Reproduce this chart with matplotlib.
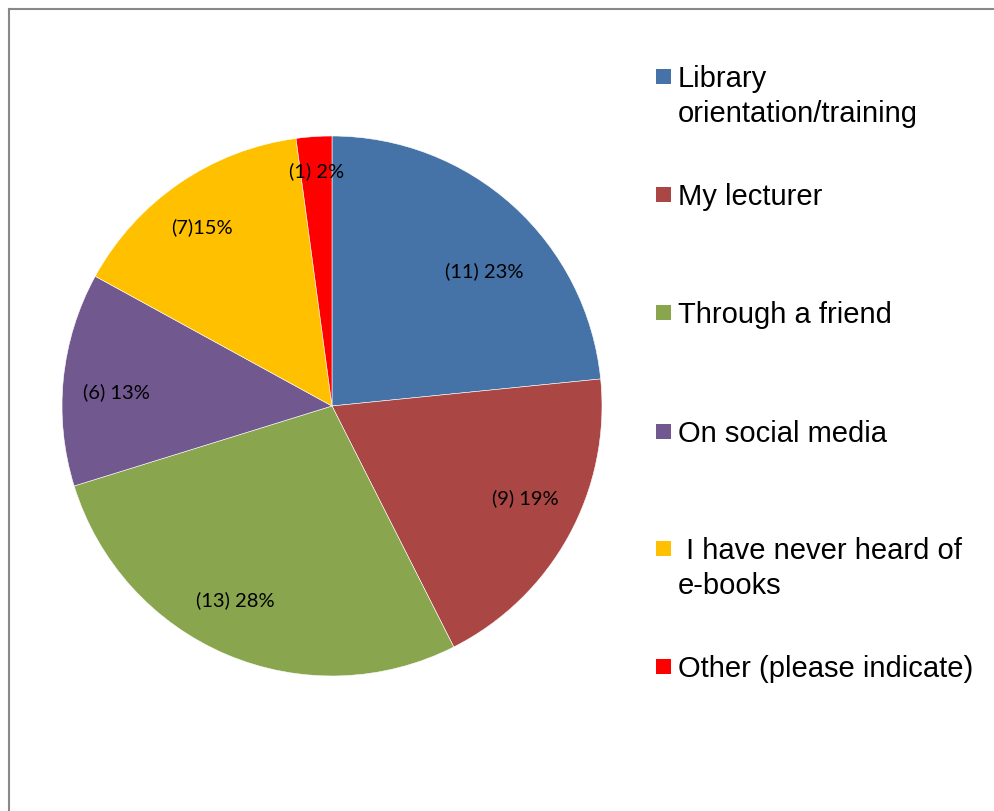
import numpy as np
import matplotlib.pyplot as plt
from matplotlib.lines import Line2D
from matplotlib.patches import Rectangle

# survey answers: how students found out about e-books
categories = ['Library\norientation/training', 'My lecturer', 'Through a friend',
              'On social media', ' I have never heard of\ne-books', 'Other (please indicate)']
counts = [11, 9, 13, 6, 7, 1]
pct_labels = ['(11) 23%', '(9) 19%', '(13) 28%', '(6) 13%', '(7)15%', '(1) 2%']
colors = ['#4572A7', '#AA4643', '#89A54E', '#71588F', '#FFC000', '#FF0000']
label_dist = [0.755, 0.79, 0.80, 0.80, 0.82, 0.875]
label_shift = [-6, 3.5, -3.6, 1.7, 1.4, 0]  # degrees off the wedge middle

W, H = 995, 812
fig = plt.figure(figsize=(W / 100, H / 100), dpi=100)

def fx(px):
    return px / W

def fy(py):
    return 1 - py / H

# pie centred at (332, 407) px with radius 270 px
r = 270
ax = fig.add_axes([fx(332 - r), fy(407 + r), 2 * r / W, 2 * r / H])
wedges, _ = ax.pie(counts, colors=colors, startangle=90, counterclock=False,
                   radius=1, wedgeprops=dict(edgecolor='white', linewidth=0.4))
ax.set_xlim(-1, 1)
ax.set_ylim(-1, 1)
ax.set_aspect('auto')
ax.axis('off')

for w, lab, d, s in zip(wedges, pct_labels, label_dist, label_shift):
    ang = np.deg2rad((w.theta1 + w.theta2) / 2 + s)
    ax.text(d * np.cos(ang), d * np.sin(ang), lab, ha='center', va='center',
            fontsize=14.5, family='Lato', color='black')

# legend drawn by hand so the swatch sits beside the first line
leg_x = 656
leg_y = [77, 195, 313, 432, 549, 667]
for cat, c, y in zip(categories, colors, leg_y):
    fig.add_artist(Rectangle((fx(leg_x), fy(y + 7.5)), 15 / W, 15 / H,
                             transform=fig.transFigure, color=c, lw=0))
    fig.text(fx(leg_x + 22), fy(y - 12), cat, ha='left', va='top',
             fontsize=21, family='Liberation Sans', color='black',
             linespacing=1.33)

# chart area frame
fig.add_artist(Line2D([fx(8.5), fx(8.5)], [fy(9.5), 0], color='#888888', lw=1.5,
                      transform=fig.transFigure))
fig.add_artist(Line2D([fx(8.5), 1], [fy(9.5), fy(9.5)], color='#888888', lw=1.5,
                      transform=fig.transFigure))

fig.savefig('out.png', dpi=100)
